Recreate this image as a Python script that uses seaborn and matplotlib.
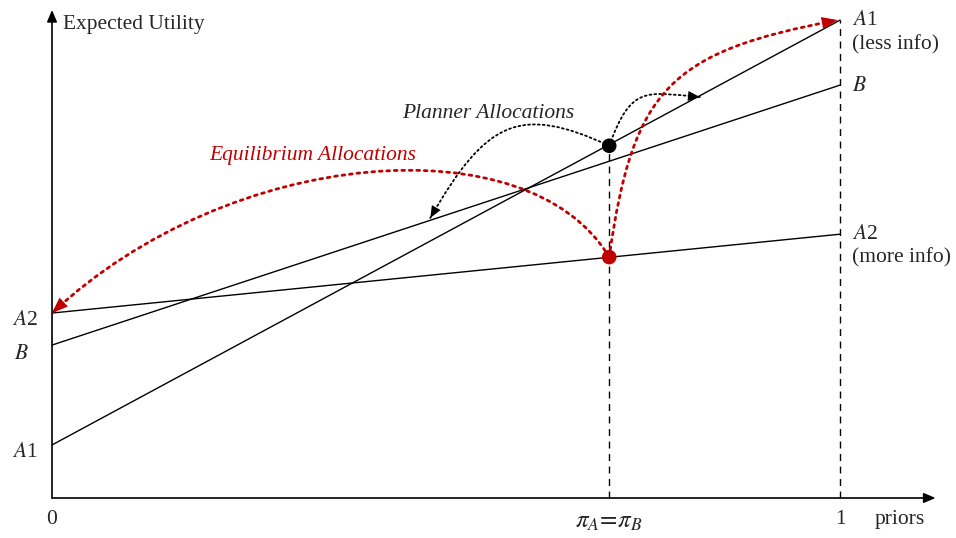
import numpy as np
import pandas as pd
import matplotlib
matplotlib.use('Agg')
import matplotlib.pyplot as plt
from matplotlib.path import Path
from matplotlib.patches import FancyArrowPatch
import seaborn as sns

# values (priors on x, expected utility on y)
priors = [0.0, 1.0]
a1_util = [0.111, 1.0]
b_util = [0.320, 0.864]
a2_util = [0.387, 0.552]
pi_eq = 0.707
planner_util = 0.737
equil_util = 0.504

# curved allocation arrows: start, two bezier handles, end (data units)
planner_left = [(pi_eq, planner_util), (0.592, 0.825), (0.550, 0.787), (0.480, 0.586)]
planner_right = [(pi_eq, planner_util), (0.735, 0.864), (0.753, 0.849), (0.822, 0.839)]
equil_left = [(pi_eq, equil_util), (0.606, 0.784), (0.227, 0.737), (0.0, 0.387)]
equil_right = [(pi_eq, equil_util), (0.737, 0.858), (0.785, 0.934), (0.997, 1.0)]

red = '#c00000'

sns.set_style('white')
plt.rcParams['font.family'] = ['Liberation Serif', 'DejaVu Serif']
plt.rcParams['mathtext.fontset'] = 'stix'

fig = plt.figure(figsize=(9.56, 5.38), dpi=100)
ax = fig.add_axes([0, 0, 1, 1])
ax.set_xlim(-0.066, 1.147)
ax.set_ylim(-0.0837, 1.042)
ax.axis('off')

lines = pd.DataFrame({
    'prior': priors * 3,
    'util': a1_util + b_util + a2_util,
    'alloc': ['A1'] * 2 + ['B'] * 2 + ['A2'] * 2,
})
sns.lineplot(data=lines, x='prior', y='util', units='alloc', estimator=None,
             color='black', lw=1, ax=ax)

# axes with arrows
axis_arrow = dict(arrowstyle='-|>,head_length=0.7,head_width=0.3', color='black',
                  lw=1.2, mutation_scale=10, shrinkA=0, shrinkB=0)
ax.annotate('', xy=(1.121, 0), xytext=(0, 0), arrowprops=axis_arrow)
ax.annotate('', xy=(0, 1.021), xytext=(0, 0), arrowprops=axis_arrow)

# dashed verticals
ax.plot([pi_eq, pi_eq], [0, planner_util], color='black', lw=1, ls=(0, (5, 4)))
ax.plot([1, 1], [0, a1_util[1]], color='black', lw=1, ls=(0, (5, 4)))

pts = pd.DataFrame({'prior': [pi_eq, pi_eq], 'util': [planner_util, equil_util],
                    'kind': ['planner', 'equilibrium']})
sns.scatterplot(data=pts, x='prior', y='util', hue='kind',
                palette={'planner': 'black', 'equilibrium': red},
                s=110, edgecolor='none', legend=False, ax=ax, zorder=5)


def curved_arrow(ctrl, color, lw, dots, head, scale):
    path = Path(ctrl, [Path.MOVETO, Path.CURVE4, Path.CURVE4, Path.CURVE4])
    # dotted body
    ax.add_patch(FancyArrowPatch(path=path, arrowstyle='-', color=color, lw=lw,
                                 ls=(0, dots), transform=ax.transData, zorder=4))
    # solid filled head on the same curve
    ax.add_patch(FancyArrowPatch(path=path,
                                 arrowstyle=f'-|>,head_length={head[0]},head_width={head[1]}',
                                 fc=color, ec='none', lw=0, mutation_scale=scale,
                                 transform=ax.transData, zorder=4))


for ctrl in [planner_left, planner_right]:
    curved_arrow(ctrl, 'black', 1.3, (1, 1.7), (0.9, 0.38), 9.5)
for ctrl in [equil_left, equil_right]:
    curved_arrow(ctrl, red, 2.0, (1, 1.7), (1.1, 0.42), 10.5)

fs = 15.5
ax.text(0.014, 0.99, 'Expected Utility', fontsize=15.4, va='center', ha='left')
ax.text(1.015, 1.0, '$A$1', fontsize=fs, va='center')
ax.text(1.015, 0.948, '(less info)', fontsize=fs, va='center')
ax.text(1.015, 0.862, '$B$', fontsize=fs, va='center')
ax.text(1.015, 0.552, '$A$2', fontsize=fs, va='center')
ax.text(1.015, 0.502, '(more info)', fontsize=fs, va='center')
ax.text(-0.018, 0.372, '$A$2', fontsize=fs, va='center', ha='right')
ax.text(-0.030, 0.301, '$B$', fontsize=fs, va='center', ha='right')
ax.text(-0.018, 0.096, '$A$1', fontsize=fs, va='center', ha='right')
ax.text(0, -0.045, '0', fontsize=fs, va='center', ha='center')
ax.text(1, -0.045, '1', fontsize=fs, va='center', ha='center')
ax.text(1.044, -0.045, 'priors', fontsize=fs, va='center', ha='left')
ax.text(pi_eq, -0.05, r'$\pi_A\!=\!\pi_B$', fontsize=18, va='center', ha='center')
ax.text(0.553, 0.805, 'Planner Allocations', fontsize=fs, style='italic',
        va='center', ha='center')
ax.text(0.331, 0.716, 'Equilibrium Allocations', fontsize=fs, style='italic',
        color=red, va='center', ha='center')

fig.savefig('out.png', dpi=100)
